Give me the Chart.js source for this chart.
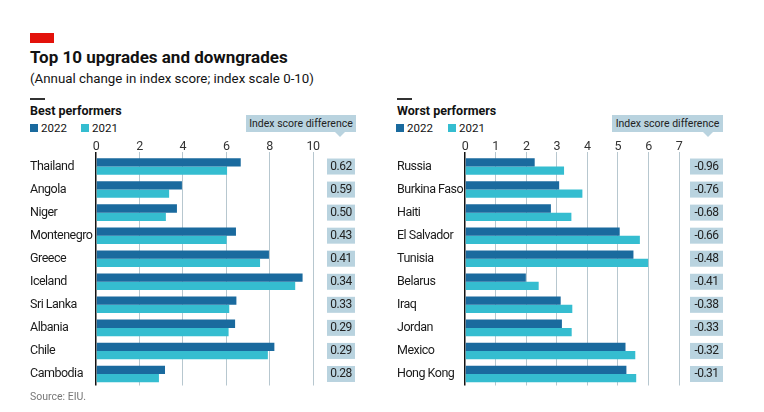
<!DOCTYPE html>
<html>
<head>
<meta charset="utf-8">
<script src="https://cdn.jsdelivr.net/npm/chart.js@4.4.1/dist/chart.umd.min.js"></script>
<style>
  html, body { margin: 0; padding: 0; background: #fff; }
  #wrap { position: relative; width: 764px; height: 412px; overflow: hidden;
          font-family: Roboto, 'Noto Sans', sans-serif; color: #121212; }
  .abs { position: absolute; white-space: nowrap; }
  #redbar { left: 30px; top: 33px; width: 24px; height: 10px; background: #e3120b; }
  #title { left: 30px; top: 47px; font-size: 17px; font-weight: bold; }
  #subtitle { left: 30px; top: 71px; font-size: 13.3px; }
  .rule { height: 2px; width: 15px; background: #333; }
  .panelTitle { font-size: 12.5px; font-weight: bold; }
  .leg { font-size: 11.5px; top: 121px; }
  .sq { display: inline-block; width: 8px; height: 8px; margin-right: 3px; }
  .hdr { background: #b9d3df; font-size: 10.5px; color: #222; text-align: center; height: 17px; line-height: 17px; }
  .hdr:after { content: ""; position: absolute; bottom: -5px; width: 0; height: 0;
               border-left: 5px solid transparent; border-right: 5px solid transparent; border-top: 5px solid #b9d3df; }
  #hdrL:after { left: 89px; }
  #hdrR:after { left: 91px; }
  #source { left: 30px; top: 390px; font-size: 10.5px; color: #777; }
  canvas { position: absolute; }
</style>
</head>
<body>
<div id="wrap">
  <div class="abs" id="redbar"></div>
  <div class="abs" id="title">Top 10 upgrades and downgrades</div>
  <div class="abs" id="subtitle">(Annual change in index score; index scale 0-10)</div>

  <div class="abs rule" style="left:30px; top:98px;"></div>
  <div class="abs panelTitle" style="left:30px; top:103px;">Best performers</div>
  <div class="abs leg" style="left:30px;"><span class="sq" style="background:#1a6a9e"></span>2022</div>
  <div class="abs leg" style="left:81px;"><span class="sq" style="background:#35bdd0"></span>2021</div>
  <div class="abs hdr" id="hdrL" style="left:246px; top:115px; width:110px;">Index score difference</div>

  <div class="abs rule" style="left:397px; top:98px;"></div>
  <div class="abs panelTitle" style="left:397px; top:103px;">Worst performers</div>
  <div class="abs leg" style="left:396px;"><span class="sq" style="background:#1a6a9e"></span>2022</div>
  <div class="abs leg" style="left:448px;"><span class="sq" style="background:#35bdd0"></span>2021</div>
  <div class="abs hdr" id="hdrR" style="left:612px; top:115px; width:111px;">Index score difference</div>

  <canvas id="cL" style="left:0px; top:120px;" width="382" height="275"></canvas>
  <canvas id="cR" style="left:382px; top:120px;" width="382" height="275"></canvas>

  <div class="abs" id="source">Source: EIU.</div>
</div>
<script>
// ---- Data ----
const bestCountries = ["Thailand","Angola","Niger","Montenegro","Greece","Iceland","Sri Lanka","Albania","Chile","Cambodia"];
const best2022 = [6.67, 3.96, 3.73, 6.45, 7.97, 9.52, 6.47, 6.41, 8.22, 3.18];
const best2021 = [6.04, 3.37, 3.22, 6.02, 7.56, 9.18, 6.14, 6.11, 7.92, 2.90];
const bestDiff = ["0.62","0.59","0.50","0.43","0.41","0.34","0.33","0.29","0.29","0.28"];
const bestTicks = [0, 2, 4, 6, 8, 10];

const worstCountries = ["Russia","Burkina Faso","Haiti","El Salvador","Tunisia","Belarus","Iraq","Jordan","Mexico","Hong Kong"];
const worst2022 = [2.28, 3.08, 2.81, 5.06, 5.51, 1.99, 3.13, 3.17, 5.25, 5.28];
const worst2021 = [3.24, 3.84, 3.48, 5.72, 5.99, 2.41, 3.51, 3.49, 5.57, 5.60];
const worstDiff = ["-0.96","-0.76","-0.68","-0.66","-0.48","-0.41","-0.38","-0.33","-0.32","-0.31"];
const worstTicks = [0, 1, 2, 3, 4, 5, 6, 7];

const C2022 = '#1a6a9e';
const C2021 = '#35bdd0';
const FONT = "Roboto, 'Noto Sans', sans-serif";

const condense = {
  id: 'condense',
  beforeDraw(chart) { if ('letterSpacing' in chart.ctx) chart.ctx.letterSpacing = '-0.5px'; },
  afterDraw(chart) { if ('letterSpacing' in chart.ctx) chart.ctx.letterSpacing = '0px'; }
};

function diffPlugin(labels, boxLeft, boxWidth) {
  return {
    id: 'diffBoxes',
    afterDatasetsDraw(chart) {
      const ctx = chart.ctx;
      const y = chart.scales.y;
      ctx.save();
      ctx.font = "12px " + FONT;
      ctx.textAlign = 'center';
      ctx.textBaseline = 'middle';
      labels.forEach((t, i) => {
        const cy = y.getPixelForValue(i);
        ctx.fillStyle = '#b9d3df';
        ctx.fillRect(boxLeft, cy - 8, boxWidth, 16);
        ctx.fillStyle = '#222';
        ctx.fillText(t, boxLeft + boxWidth / 2, cy + 0.5);
      });
      ctx.restore();
    }
  };
}

function makeChart(id, cats, d22, d21, ticks, maxV, padL, yW, padR, diffs, boxLeft, boxW) {
  return new Chart(document.getElementById(id), {
    type: 'bar',
    data: {
      labels: cats,
      datasets: [
        { label: '2022', data: d22, backgroundColor: C2022 },
        { label: '2021', data: d21, backgroundColor: C2021 }
      ]
    },
    options: {
      indexAxis: 'y',
      responsive: false,
      animation: false,
      devicePixelRatio: 1,
      layout: { padding: { left: padL, right: padR, top: 0, bottom: 9.5 } },
      datasets: { bar: { categoryPercentage: 0.72, barPercentage: 1.0 } },
      plugins: { legend: { display: false }, tooltip: { enabled: false } },
      scales: {
        x: {
          position: 'top',
          min: 0, max: maxV,
          afterBuildTicks: (s) => { s.ticks = ticks.map(v => ({ value: v })); },
          afterFit: (s) => { s.height = 35; },
          ticks: { color: '#333', font: { family: FONT, size: 12.5 }, padding: -2 },
          grid: {
            color: (c) => (c.tick && c.tick.value === 0) ? '#121212' : '#b7c7cf',
            lineWidth: (c) => (c.tick && c.tick.value === 0) ? 1.5 : 1,
            tickLength: 3,
            drawTicks: true
          },
          border: { display: false }
        },
        y: {
          afterFit: (s) => { s.width = yW; },
          ticks: { crossAlign: 'far', color: '#1a1a1a', font: { family: FONT, size: 12.5 }, padding: 0 },
          grid: { display: false },
          border: { display: false }
        }
      }
    },
    plugins: [condense, diffPlugin(diffs, boxLeft, boxW)]
  });
}

makeChart('cL', bestCountries, best2022, best2021, bestTicks, 10, 30, 66, 69, bestDiff, 327, 28);
makeChart('cR', worstCountries, worst2022, worst2021, worstTicks, 7, 15, 68, 85, worstDiff, 308, 33);
</script>
</body>
</html>
